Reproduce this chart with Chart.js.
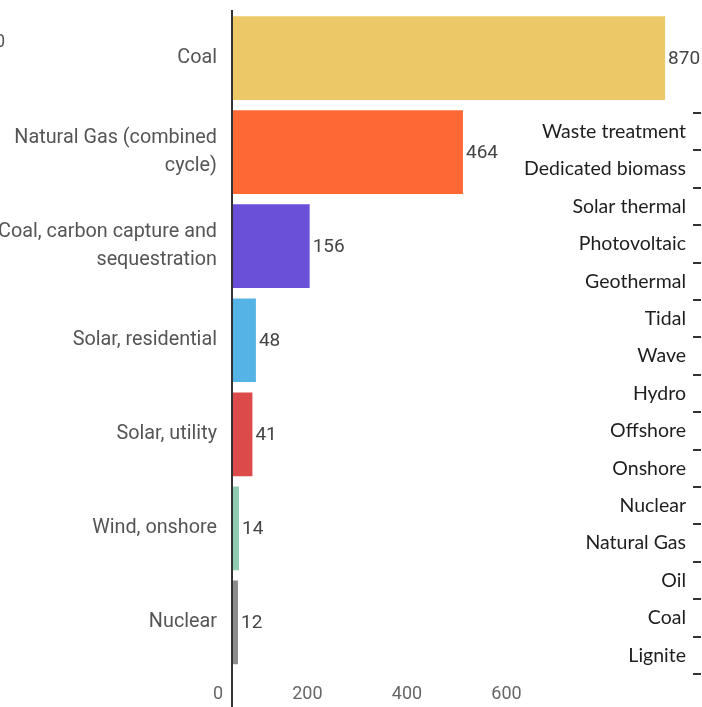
<!DOCTYPE html>
<html>
<head>
<meta charset="utf-8">
<script src="https://cdn.jsdelivr.net/npm/chart.js@4.4.0/dist/chart.umd.min.js"></script>
<style>
html, body { margin: 0; padding: 0; background: #fff; overflow: hidden; }
#wrap { position: relative; width: 702px; height: 707px; overflow: hidden; }
#main { position: absolute; left: 0; top: 0; }
#side { position: absolute; left: 480px; top: 0; }
.stray { position: absolute; left: -5px; top: 30px; font: 18px Roboto, sans-serif; color: #555; }
</style>
</head>
<body>
<div id="wrap">
  <canvas id="main" width="702" height="707"></canvas>
  <canvas id="side" width="230" height="707"></canvas>
  <div class="stray">0</div>
</div>
<script>
// lifecycle emissions, gCO2eq/kWh
var sources = [
    'Coal',
    ['Natural Gas (combined', 'cycle)'],
    ['Coal, carbon capture and', 'sequestration'],
    'Solar, residential',
    'Solar, utility',
    'Wind, onshore',
    'Nuclear'
];
var emissions = [870, 464, 156, 48, 41, 14, 12];
var barColors = ['#ecc866', '#fe6835', '#6a4fd8', '#55b3e5', '#dc4a4a', '#8fcbb0', '#8c8c8c'];
var xTicks = [0, 200, 400, 600];

// category list of the second axis on the right
var sideLabels = [
    'Waste treatment', 'Dedicated biomass', 'Solar thermal', 'Photovoltaic', 'Geothermal',
    'Tidal', 'Wave', 'Hydro', 'Offshore', 'Onshore', 'Nuclear', 'Natural Gas', 'Oil', 'Coal', 'Lignite'
];

// prints each value just past the end of its bar
var valueLabels = {
    id: 'valueLabels',
    afterDatasetsDraw: function(chart) {
        var ctx = chart.ctx;
        var meta = chart.getDatasetMeta(0);
        ctx.save();
        ctx.font = '19px Roboto';
        ctx.fillStyle = '#444';
        ctx.textBaseline = 'middle';
        ctx.textAlign = 'left';
        for (var i = 0; i < meta.data.length; i++) {
            var p = meta.data[i].getProps(['x', 'y'], true);
            ctx.fillText(String(chart.data.datasets[0].data[i]), p.x + 3, p.y + 1);
        }
        ctx.restore();
    }
};

new Chart(document.getElementById('main'), {
    type: 'bar',
    data: {
        labels: sources,
        datasets: [{
            data: emissions,
            backgroundColor: barColors,
            borderWidth: 0,
            categoryPercentage: 1,
            barPercentage: 0.89
        }]
    },
    options: {
        indexAxis: 'y',
        responsive: false,
        animation: false,
        layout: { padding: { top: 11, right: 22, bottom: 0, left: 0 } },
        plugins: {
            legend: { display: false },
            tooltip: { enabled: false }
        },
        scales: {
            x: {
                min: 0,
                max: 900,
                afterFit: function(s) { s.height = 37.5; s.paddingLeft = 0; s.paddingRight = 0; },
                ticks: {
                    stepSize: 200,
                    align: 'end',
                    labelOffset: -9,
                    padding: -26,
                    color: '#666',
                    font: { family: 'Roboto', size: 18 },
                    callback: function(v) { return xTicks.indexOf(v) >= 0 ? String(v) : ''; }
                },
                grid: {
                    drawOnChartArea: false,
                    tickLength: 40,
                    lineWidth: 2,
                    color: function(c) { return c.tick && c.tick.value === 0 ? '#333' : 'rgba(0,0,0,0)'; }
                },
                border: { display: false }
            },
            y: {
                afterFit: function(s) { s.width = 232; s.paddingTop = 0; s.paddingBottom = 0; },
                ticks: {
                    padding: 15,
                    color: '#555',
                    font: { family: 'Roboto', size: 19.8, lineHeight: 1.42 }
                },
                grid: { drawOnChartArea: false, drawTicks: false },
                border: { display: true, color: '#333', width: 2 }
            }
        }
    },
    plugins: [valueLabels]
});

new Chart(document.getElementById('side'), {
    type: 'bar',
    data: {
        labels: sideLabels,
        datasets: [{ data: [] }]
    },
    options: {
        indexAxis: 'y',
        responsive: false,
        animation: false,
        layout: { padding: { top: 113, right: 0, bottom: 33, left: 0 } },
        plugins: {
            legend: { display: false },
            tooltip: { enabled: false }
        },
        scales: {
            x: { display: false },
            y: {
                afterFit: function(s) { s.width = 221; s.paddingTop = 0; s.paddingBottom = 0; },
                ticks: {
                    padding: 7,
                    color: '#1e1e1e',
                    font: { family: 'Lato', size: 19.5 }
                },
                grid: { drawOnChartArea: false, tickLength: 8, lineWidth: 2, color: '#333' },
                border: { display: false }
            }
        }
    }
});
</script>
</body>
</html>
